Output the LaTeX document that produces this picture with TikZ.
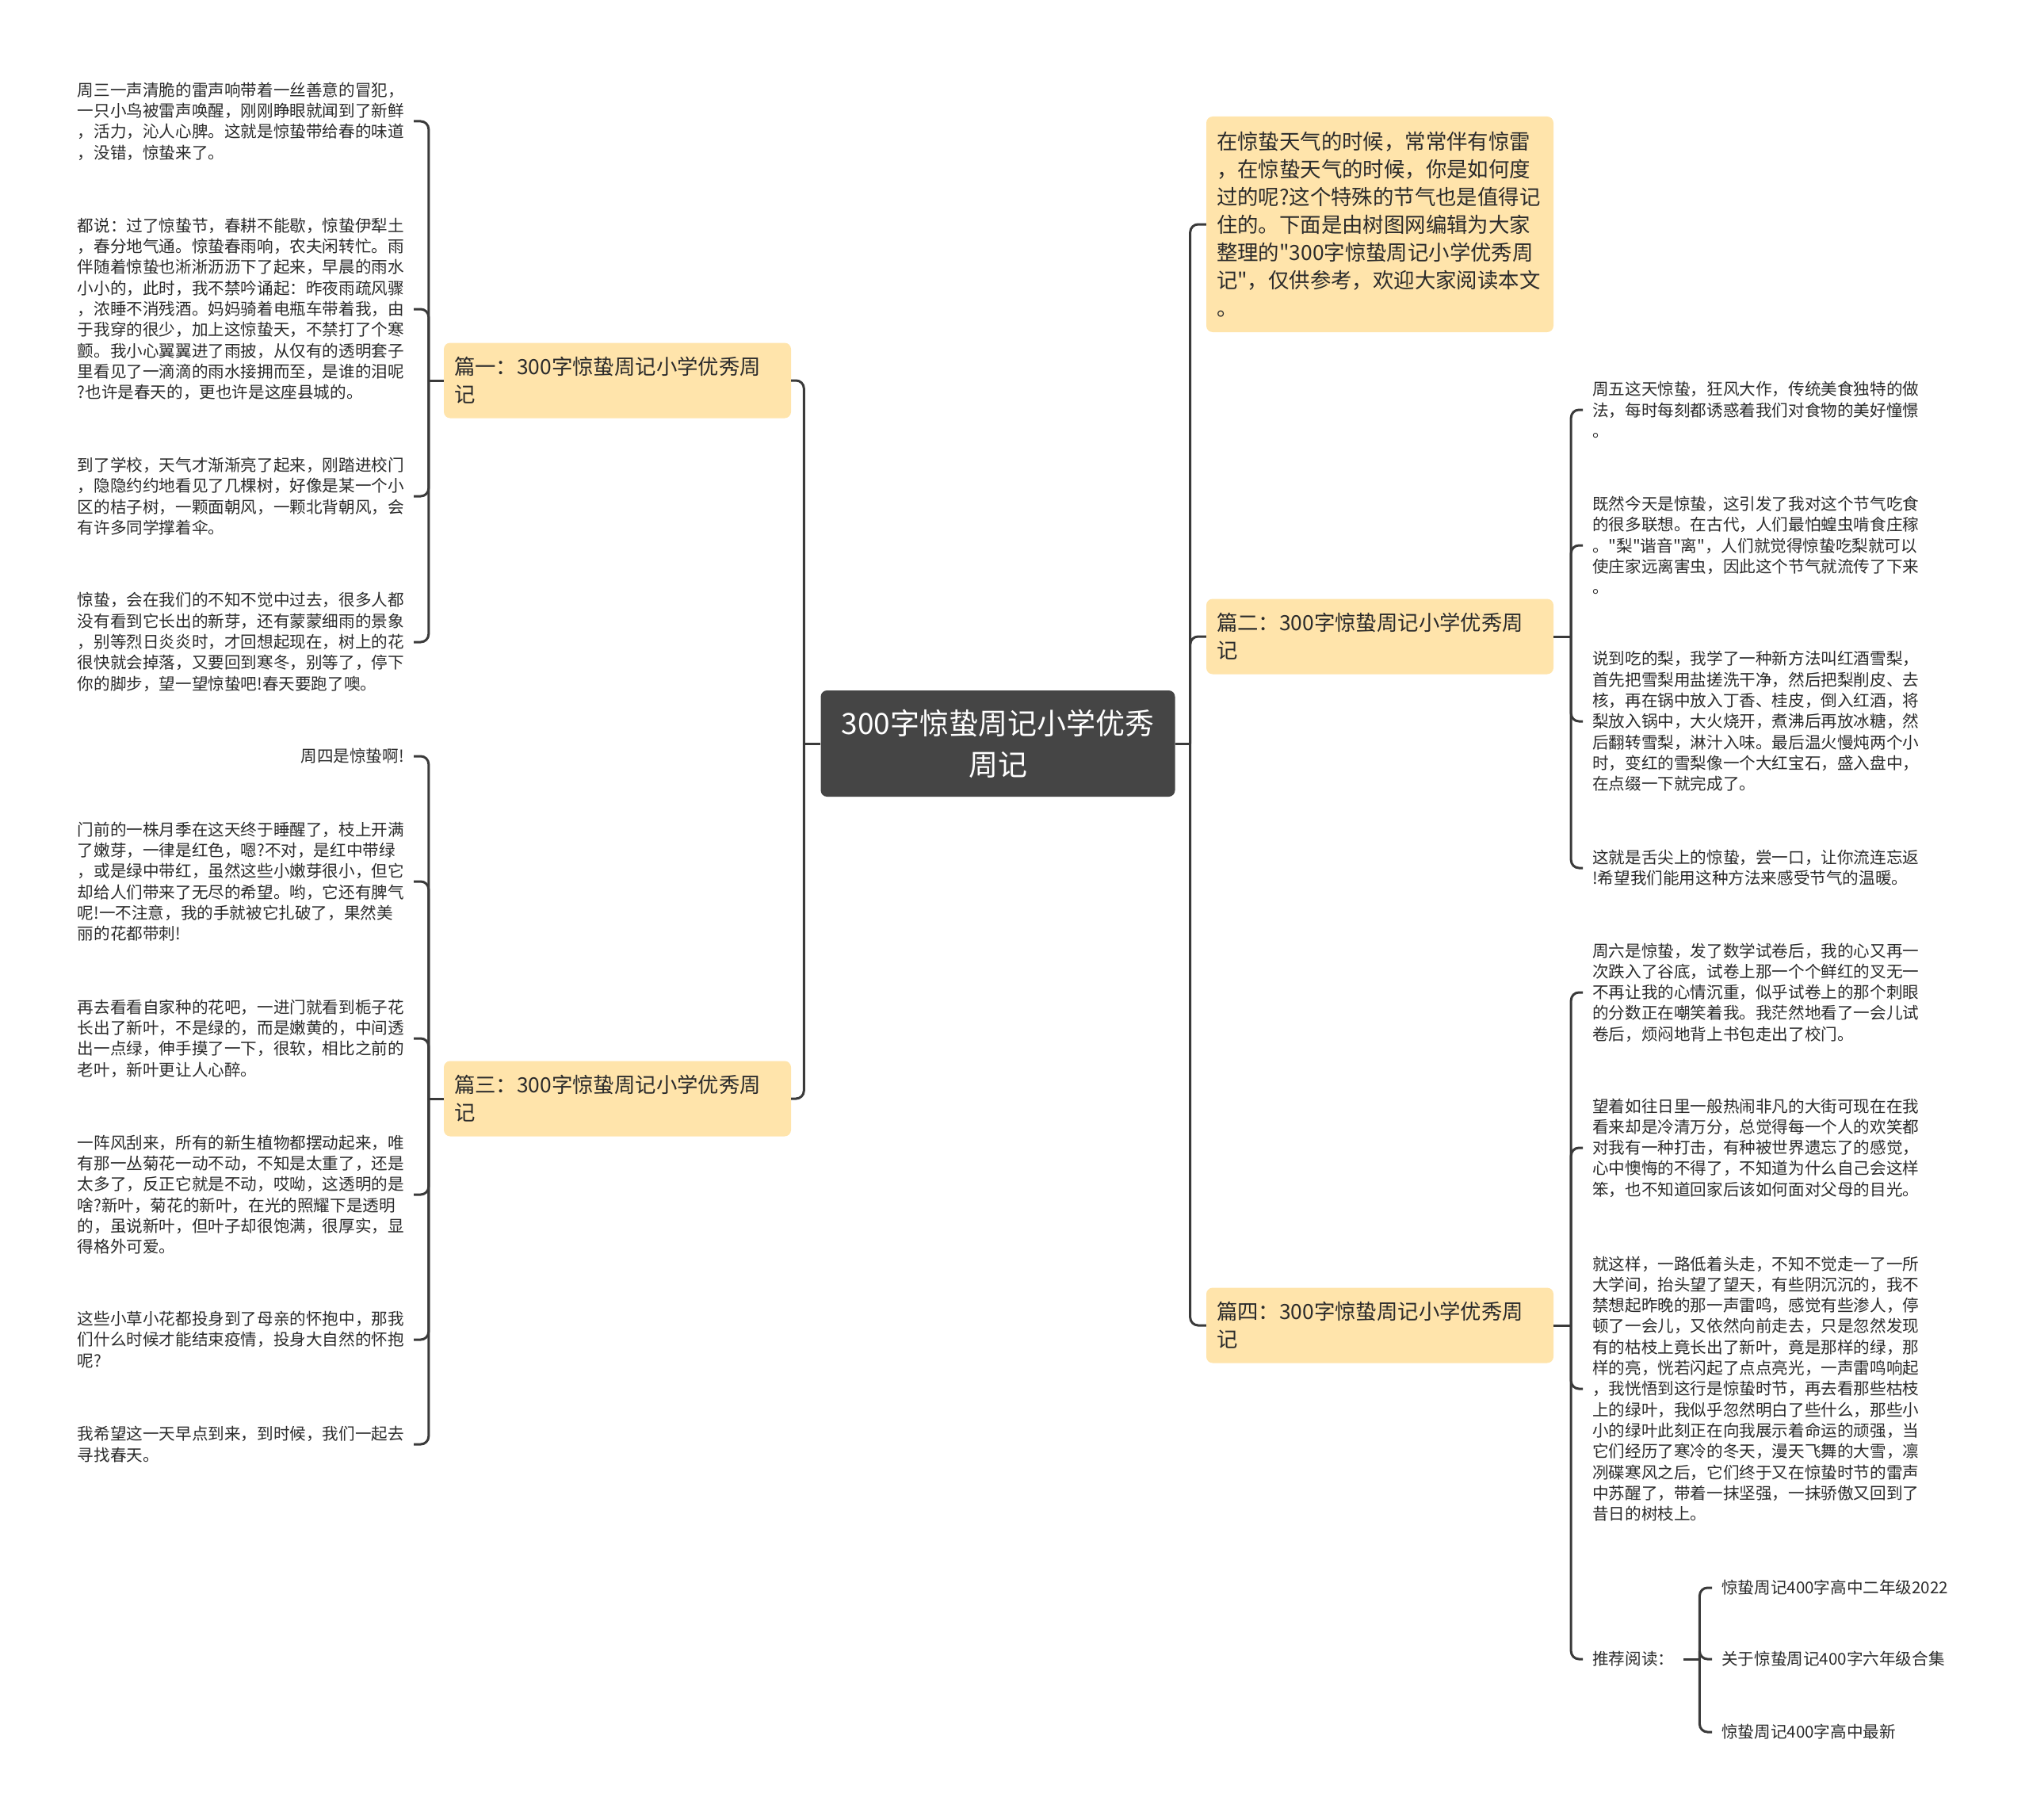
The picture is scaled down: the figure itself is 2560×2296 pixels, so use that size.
\documentclass[tikz,border=0pt]{standalone}
\usepackage{fontspec}
\newfontfamily\cjk{Noto Sans CJK SC}
\usepackage{xcolor}
\definecolor{rootgray}{HTML}{454545}
\definecolor{topicfill}{HTML}{FFE4AB}
\definecolor{linkgray}{HTML}{3A3A3A}
\definecolor{leaftext}{HTML}{2B2B2B}

\begin{document}
\begin{tikzpicture}[x=1pt, y=-1pt,
    root/.style={fill=rootgray, text=white, rounded corners=8pt, align=center, minimum width=447pt, minimum height=134pt, font=\cjk\fontsize{37}{52}\selectfont},
    topic/.style={fill=topicfill, text=leaftext, rounded corners=8pt, align=left, text width=412pt, inner xsep=13pt, minimum height=95pt, font=\cjk\fontsize{26.4}{35}\selectfont},
    leaf/.style={text=leaftext, align=left, inner xsep=12pt, inner ysep=3pt, font=\cjk\fontsize{20.6}{26.3}\selectfont},
    link/.style={draw=linkgray, line width=3pt, rounded corners=10pt}]
    \useasboundingbox (0,0) rectangle (2560,2296);

    % centre and the four parts
    \node[root] (root) at (1259,938) {300字惊蛰周记小学优秀\\周记};
    \node[topic, minimum height=272pt] (intro) at (1741,283) {在惊蛰天气的时候，常常伴有惊雷\\，在惊蛰天气的时候，你是如何度\\过的呢?这个特殊的节气也是值得记\\住的。下面是由树图网编辑为大家\\整理的"300字惊蛰周记小学优秀周\\记"，仅供参考，欢迎大家阅读本文\\。};
    \node[topic] (p1) at (779,480) {篇一：300字惊蛰周记小学优秀周\\记};
    \node[topic] (p3) at (779,1386) {篇三：300字惊蛰周记小学优秀周\\记};
    \node[topic] (p2) at (1741,803) {篇二：300字惊蛰周记小学优秀周\\记};
    \node[topic] (p4) at (1741,1672) {篇四：300字惊蛰周记小学优秀周\\记};

    % part one
    \node[leaf, anchor=east] (a1) at (522,153) {周三一声清脆的雷声响带着一丝善意的冒犯，\\一只小鸟被雷声唤醒，刚刚睁眼就闻到了新鲜\\，活力，沁人心脾。这就是惊蛰带给春的味道\\，没错，惊蛰来了。};
    \node[leaf, anchor=east] (a2) at (522,390) {都说：过了惊蛰节，春耕不能歇，惊蛰伊犁土\\，春分地气通。惊蛰春雨响，农夫闲转忙。雨\\伴随着惊蛰也淅淅沥沥下了起来，早晨的雨水\\小小的，此时，我不禁吟诵起：昨夜雨疏风骤\\，浓睡不消残酒。妈妈骑着电瓶车带着我，由\\于我穿的很少，加上这惊蛰天，不禁打了个寒\\颤。我小心翼翼进了雨披，从仅有的透明套子\\里看见了一滴滴的雨水接拥而至，是谁的泪呢\\?也许是春天的，更也许是这座县城的。};
    \node[leaf, anchor=east] (a3) at (522,626) {到了学校，天气才渐渐亮了起来，刚踏进校门\\，隐隐约约地看见了几棵树，好像是某一个小\\区的桔子树，一颗面朝风，一颗北背朝风，会\\有许多同学撑着伞。};
    \node[leaf, anchor=east] (a4) at (522,810) {惊蛰，会在我们的不知不觉中过去，很多人都\\没有看到它长出的新芽，还有蒙蒙细雨的景象\\，别等烈日炎炎时，才回想起现在，树上的花\\很快就会掉落，又要回到寒冬，别等了，停下\\你的脚步，望一望惊蛰吧!春天要跑了噢。};

    % part three
    \node[leaf, anchor=east] (c1) at (522,954) {周四是惊蛰啊!};
    \node[leaf, anchor=east] (c2) at (522,1112) {门前的一株月季在这天终于睡醒了，枝上开满\\了嫩芽，一律是红色，嗯?不对，是红中带绿\\，或是绿中带红，虽然这些小嫩芽很小，但它\\却给人们带来了无尽的希望。哟，它还有脾气\\呢!一不注意，我的手就被它扎破了，果然美\\丽的花都带刺!};
    \node[leaf, anchor=east] (c3) at (522,1310) {再去看看自家种的花吧，一进门就看到栀子花\\长出了新叶，不是绿的，而是嫩黄的，中间透\\出一点绿，伸手摸了一下，很软，相比之前的\\老叶，新叶更让人心醉。};
    \node[leaf, anchor=east] (c4) at (522,1507) {一阵风刮来，所有的新生植物都摆动起来，唯\\有那一丛菊花一动不动，不知是太重了，还是\\太多了，反正它就是不动，哎呦，这透明的是\\啥?新叶，菊花的新叶，在光的照耀下是透明\\的，虽说新叶，但叶子却很饱满，很厚实，显\\得格外可爱。};
    \node[leaf, anchor=east] (c5) at (522,1690) {这些小草小花都投身到了母亲的怀抱中，那我\\们什么时候才能结束疫情，投身大自然的怀抱\\呢?};
    \node[leaf, anchor=east] (c6) at (522,1822) {我希望这一天早点到来，到时候，我们一起去\\寻找春天。};

    % part two
    \node[leaf, anchor=west] (b1) at (1997,517) {周五这天惊蛰，狂风大作，传统美食独特的做\\法，每时每刻都诱惑着我们对食物的美好憧憬\\。};
    \node[leaf, anchor=west] (b2) at (1997,688) {既然今天是惊蛰，这引发了我对这个节气吃食\\的很多联想。在古代，人们最怕蝗虫啃食庄稼\\。"梨"谐音"离"，人们就觉得惊蛰吃梨就可以\\使庄家远离害虫，因此这个节气就流传了下来\\。};
    \node[leaf, anchor=west] (b3) at (1997,910) {说到吃的梨，我学了一种新方法叫红酒雪梨，\\首先把雪梨用盐搓洗干净，然后把梨削皮、去\\核，再在锅中放入丁香、桂皮，倒入红酒，将\\梨放入锅中，大火烧开，煮沸后再放冰糖，然\\后翻转雪梨，淋汁入味。最后温火慢炖两个小\\时，变红的雪梨像一个大红宝石，盛入盘中，\\在点缀一下就完成了。};
    \node[leaf, anchor=west] (b4) at (1997,1095) {这就是舌尖上的惊蛰，尝一口，让你流连忘返\\!希望我们能用这种方法来感受节气的温暖。};

    % part four
    \node[leaf, anchor=west] (d1) at (1997,1252) {周六是惊蛰，发了数学试卷后，我的心又再一\\次跌入了谷底，试卷上那一个个鲜红的叉无一\\不再让我的心情沉重，似乎试卷上的那个刺眼\\的分数正在嘲笑着我。我茫然地看了一会儿试\\卷后，烦闷地背上书包走出了校门。};
    \node[leaf, anchor=west] (d2) at (1997,1448) {望着如往日里一般热闹非凡的大街可现在在我\\看来却是冷清万分，总觉得每一个人的欢笑都\\对我有一种打击，有种被世界遗忘了的感觉，\\心中懊悔的不得了，不知道为什么自己会这样\\笨，也不知道回家后该如何面对父母的目光。};
    \node[leaf, anchor=west] (d3) at (1997,1752) {就这样，一路低着头走，不知不觉走一了一所\\大学间，抬头望了望天，有些阴沉沉的，我不\\禁想起昨晚的那一声雷鸣，感觉有些渗人，停\\顿了一会儿，又依然向前走去，只是忽然发现\\有的枯枝上竟长出了新叶，竟是那样的绿，那\\样的亮，恍若闪起了点点亮光，一声雷鸣响起\\，我恍悟到这行是惊蛰时节，再去看那些枯枝\\上的绿叶，我似乎忽然明白了些什么，那些小\\小的绿叶此刻正在向我展示着命运的顽强，当\\它们经历了寒冷的冬天，漫天飞舞的大雪，凛\\冽碟寒风之后，它们终于又在惊蛰时节的雷声\\中苏醒了，带着一抹坚强，一抹骄傲又回到了\\昔日的树枝上。};
    \node[leaf, anchor=west] (rec) at (1997,2093) {推荐阅读：};
    \node[leaf, anchor=west] (r1) at (2160,2003) {惊蛰周记400字高中二年级2022};
    \node[leaf, anchor=west] (r2) at (2160,2093) {关于惊蛰周记400字六年级合集};
    \node[leaf, anchor=west] (r3) at (2160,2185) {惊蛰周记400字高中最新};

    % connectors
    \draw[link] (root.west) -- ++(-21,0) coordinate (lt);
    \draw[link] (root.east) -- ++(19,0) coordinate (rt);
    \foreach \n in {p1,p3} \draw[link] (lt) |- (\n.east);
    \foreach \n in {intro,p2,p4} \draw[link] (rt) |- (\n.west);
    \draw[link] (p1.west) -- ++(-19,0) coordinate (p1t);
    \draw[link] (p3.west) -- ++(-19,0) coordinate (p3t);
    \draw[link] (p2.east) -- ++(22,0) coordinate (p2t);
    \draw[link] (p4.east) -- ++(22,0) coordinate (p4t);
    \draw[link] (rec.east) -- ++(20,0) coordinate (rect);
    \foreach \n in {a1,a2,a3,a4} \draw[link] (p1t) |- (\n.east);
    \foreach \n in {c1,c2,c3,c4,c5,c6} \draw[link] (p3t) |- (\n.east);
    \foreach \n in {b1,b2,b3,b4} \draw[link] (p2t) |- (\n.west);
    \foreach \n in {d1,d2,d3,rec} \draw[link] (p4t) |- (\n.west);
    \foreach \n in {r1,r2,r3} \draw[link] (rect) |- (\n.west);
\end{tikzpicture}
\end{document}
